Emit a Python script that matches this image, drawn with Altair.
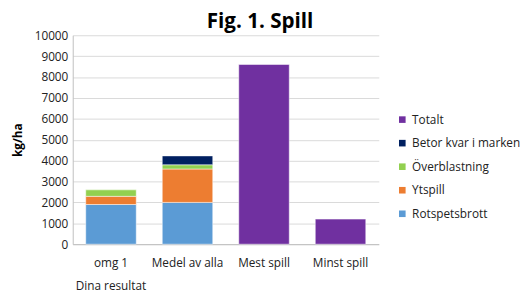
import altair as alt
import pandas as pd

categories = ["omg 1", "Medel av alla", "Mest spill", "Minst spill"]
series = ["Totalt", "Betor kvar i marken", "Överblastning", "Ytspill", "Rotspetsbrott"]
colors = ["#7030A0", "#002060", "#92D050", "#ED7D31", "#5B9BD5"]

rotspetsbrott = [1900, 2000, 0, 0]
ytspill = [390, 1600, 0, 0]
overblastning = [310, 200, 0, 0]
betor = [0, 425, 0, 0]
totalt = [0, 0, 8600, 1200]

values = {
    "Rotspetsbrott": rotspetsbrott,
    "Ytspill": ytspill,
    "Överblastning": overblastning,
    "Betor kvar i marken": betor,
    "Totalt": totalt,
}
stack_order = {"Rotspetsbrott": 0, "Ytspill": 1, "Överblastning": 2, "Betor kvar i marken": 3, "Totalt": 4}

rows = []
for s, vals in values.items():
    for c, v in zip(categories, vals):
        if v > 0:
            rows.append({"cat": c, "series": s, "value": v, "ord": stack_order[s]})
df = pd.DataFrame(rows)

FONT = "Open Sans"

bars = alt.Chart(df).mark_bar(stroke="white", strokeWidth=0.5).encode(
    x=alt.X("cat:N", sort=categories, title=None,
            scale=alt.Scale(paddingInner=0.34, paddingOuter=0.17),
            axis=alt.Axis(labelAngle=0, labelFontSize=12, labelColor="#222",
                          labelPadding=14, labelLineHeight=23, ticks=False,
                          domainColor="#bfbfbf",
                          labelExpr="datum.value == 'omg 1' ? ['omg 1', 'Dina resultat'] : datum.value")),
    y=alt.Y("value:Q", title="kg/ha", stack="zero",
            scale=alt.Scale(domain=[0, 10000]),
            axis=alt.Axis(values=list(range(0, 10001, 1000)), format="d",
                          labelFontSize=12, labelColor="#222",
                          titleFontSize=12, titleFontWeight="bold", titleColor="#000",
                          titlePadding=10, ticks=False, labelPadding=5,
                          gridColor="#d9d9d9", domainColor="#bfbfbf")),
    color=alt.Color("series:N", scale=alt.Scale(domain=series, range=colors),
                    legend=alt.Legend(title=None, orient="none", legendX=330, legendY=80,
                                      symbolType="square", symbolSize=45, symbolStrokeWidth=0,
                                      labelOffset=4,
                                      labelFontSize=12, labelColor="#222", rowPadding=12)),
    order=alt.Order("ord:Q"),
)

chart = bars.properties(
    width=312, height=213,
    padding={"left": 3, "top": 1, "right": 0, "bottom": 0},
    title=alt.TitleParams("Fig. 1. Spill", fontSize=21, fontWeight="bold", font=FONT,
                          anchor="middle", dx=35, offset=-3, color="#000"),
).configure(font=FONT).configure_view(stroke=None)

chart.save("out.html", embed_options={"renderer": "svg", "actions": False})
